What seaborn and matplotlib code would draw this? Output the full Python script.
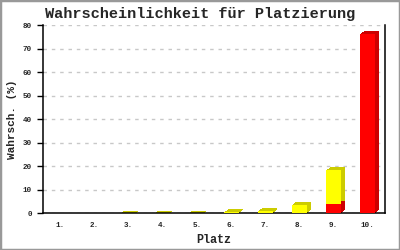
import matplotlib
matplotlib.use("Agg")
import matplotlib.pyplot as plt
import matplotlib.transforms as mtransforms
from matplotlib.patches import Rectangle
import seaborn as sns
import pandas as pd

places = ["1.", "2.", "3.", "4.", "5.", "6.", "7.", "8.", "9.", "10."]
red_vals = [0, 0, 0, 0, 0, 0, 0, 0, 4.1, 76.3]
yellow_vals = [0, 0, 0.2, 0.2, 0.2, 0.5, 1.0, 3.7, 14.3, 0]
yticks = [0, 10, 20, 30, 40, 50, 60, 70, 80]

sns.set_style("white")
plt.rcParams['font.family'] = ['Liberation Mono', 'DejaVu Sans Mono']

fig = plt.figure(figsize=(4, 2.5), dpi=100)
ax = fig.add_axes([0.1075, 0.147, 0.855, 0.752])

totals = [r + y for r, y in zip(red_vals, yellow_vals)]
df = pd.DataFrame({"Platz": places, "total": totals, "red": red_vals})

sns.barplot(data=df, x="Platz", y="total", color="#ffff00", saturation=1,
            width=0.44, ax=ax, order=places)
sns.barplot(data=df, x="Platz", y="red", color="#ff0000", saturation=1,
            width=0.44, ax=ax, order=places)

patches = list(ax.patches)
n = len(places)
side_colors = ["#cccc00"] * n + ["#cc0000"] * n
for i, p in enumerate(patches):
    p.set_zorder(3)
    p.set_edgecolor("none")
    h = p.get_height()
    if h <= 0:
        continue
    for k in range(1, 5):
        tr = ax.transData + mtransforms.ScaledTranslation(k / 100, 0.75 * k / 100, fig.dpi_scale_trans)
        r = Rectangle((p.get_x(), p.get_y()), p.get_width(), h,
                      facecolor=side_colors[i], edgecolor="none",
                      transform=tr, zorder=2 + (0.1 if i >= n else 0))
        ax.add_patch(r)

ax.set_ylim(0, 80)
ax.set_xlim(-0.5, n - 0.5)
ax.set_yticks(yticks)
ax.set_yticklabels([str(t) for t in yticks])
ax.yaxis.grid(True, linestyle=(0, (2.5, 3.5)), color="#c8c8c8", lw=1)
ax.xaxis.grid(False)
ax.set_axisbelow(True)

for s in ["left", "bottom", "right"]:
    ax.spines[s].set_visible(True)
    ax.spines[s].set_color("black")
    ax.spines[s].set_linewidth(1.1)
ax.spines["top"].set_visible(False)

ax.tick_params(axis="y", length=4, width=1, color="black", pad=4, labelsize=5.5, left=True)
ax.tick_params(axis="x", length=0, pad=6, labelsize=5.5)
for lab in ax.get_xticklabels() + ax.get_yticklabels():
    lab.set_fontweight("bold")

ax.set_xlabel("Platz", fontsize=8.5, fontweight="bold")
ax.set_ylabel("Wahrsch. (%)", fontsize=8, fontweight="bold")
ax.yaxis.set_label_coords(-0.076, 0.5)
ax.xaxis.set_label_coords(0.5, -0.11)
fig.text(0.5, 0.945, "Wahrscheinlichkeit für Platzierung", ha="center", va="center",
         fontsize=11, fontweight="bold")

fig.patches.append(Rectangle((0, 0), 1, 1, transform=fig.transFigure, fill=False,
                             edgecolor="#999999", linewidth=2.5))

fig.savefig("out.png", dpi=100)
